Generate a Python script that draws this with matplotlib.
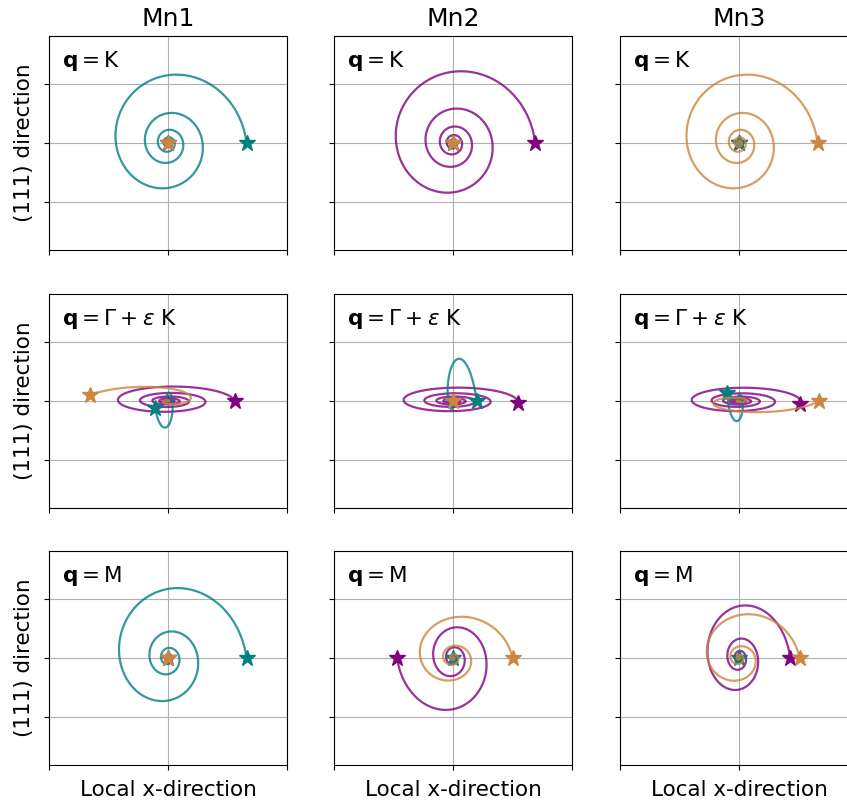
import numpy as np
import matplotlib
matplotlib.use("Agg")
import matplotlib.pyplot as plt

# column titles / row labels
moments = ["Mn1", "Mn2", "Mn3"]
q_labels = [r"$\mathbf{q} = \mathrm{K}$",
            r"$\mathbf{q} = \Gamma + \varepsilon\ \mathrm{K}$",
            r"$\mathbf{q} = \mathrm{M}$"]
colors = ["#008080", "#800080", "#cd853f"]
draw_order = [1, 0, 2]  # purple first, then teal, then orange

# spiral parameters, indexed [row][col][moment]
# amplitude along x, amplitude along y (start of the precession)
amp_x = [
    [[0.66, 0.00, 0.00], [0.00, 0.69, 0.00], [0.00, 0.00, 0.66]],
    [[0.11, 0.56, 0.68], [0.20, 0.55, 0.00], [0.10, 0.53, 0.67]],
    [[0.66, 0.00, 0.00], [0.00, 0.47, 0.50], [0.00, 0.43, 0.51]],
]
amp_y = [
    [[0.70, 0.00, 0.00], [0.00, 0.72, 0.00], [0.00, 0.00, 0.70]],
    [[0.35, 0.14, 0.20], [0.70, 0.13, 0.00], [0.30, 0.13, 0.16]],
    [[0.74, 0.00, 0.00], [0.00, 0.56, 0.46], [0.00, 0.56, 0.50]],
]
# starting angle (deg) and sense of rotation (+1 ccw, -1 cw)
phase = [
    [[0, 0, 0], [0, 0, 0], [0, 0, 0]],
    [[190, 0, 165], [0, -8, 0], [167, -13, 0]],
    [[0, 0, 0], [0, 180, 0], [0, 0, 0]],
]
sense = [
    [[1, 1, 1], [1, 1, 1], [1, 1, 1]],
    [[1, 1, -1], [1, 1, 1], [1, 1, -1]],
    [[1, 1, 1], [1, 1, 1], [1, 1, 1]],
]
# amplitude ratio after one full turn
decay = [
    [[0.44, 1.0, 1.0], [1.0, 0.48, 1.0], [1.0, 1.0, 0.44]],
    [[0.10, 0.56, 0.05], [0.04, 0.58, 1.0], [0.11, 0.58, 0.09]],
    [[0.38, 1.0, 1.0], [1.0, 0.35, 0.30], [1.0, 0.37, 0.27]],
]
n_turns = 8


def trajectory(ax_, ay_, phi0, rot, d, turns=n_turns, n=2000):
    t = np.linspace(0, turns, n)
    env = d ** t
    ang = np.deg2rad(phi0) + rot * 2 * np.pi * t
    return ax_ * env * np.cos(ang), ay_ * env * np.sin(ang)


W, H = 847, 806
fig = plt.figure(figsize=(W / 100, H / 100), dpi=100)

col_left = [49, 334, 620]
row_top = [36, 294, 551]
pw, ph = 238, 214

for r in range(3):
    for c in range(3):
        ax = fig.add_axes([col_left[c] / W, 1 - (row_top[r] + ph) / H, pw / W, ph / H])
        for m in draw_order:
            x, y = trajectory(amp_x[r][c][m], amp_y[r][c][m], phase[r][c][m],
                              sense[r][c][m], decay[r][c][m])
            ax.plot(x, y, color=colors[m], lw=1.6, alpha=0.8)
            ax.plot(x[0], y[0], marker="*", ms=12, color=colors[m], ls="none")

        ax.set_xlim(-1, 1)
        ax.set_ylim(-0.9, 0.9)
        ax.set_xticks([-1, 0, 1])
        ax.set_yticks([-0.5, 0, 0.5])
        ax.set_xticklabels([])
        ax.set_yticklabels([])
        ax.grid(True, color="#b0b0b0", lw=0.8)
        ax.set_axisbelow(True)

        ax.text(0.055, 0.855, q_labels[r], transform=ax.transAxes,
                fontsize=15.5, va="baseline", ha="left")

        if r == 0:
            ax.set_title(moments[c], fontsize=18, pad=7)
        if c == 0:
            ax.set_ylabel("(111) direction", fontsize=15.5)
        if r == 2:
            ax.set_xlabel("Local x-direction", fontsize=15.5)

plt.savefig("out.png", dpi=100)
